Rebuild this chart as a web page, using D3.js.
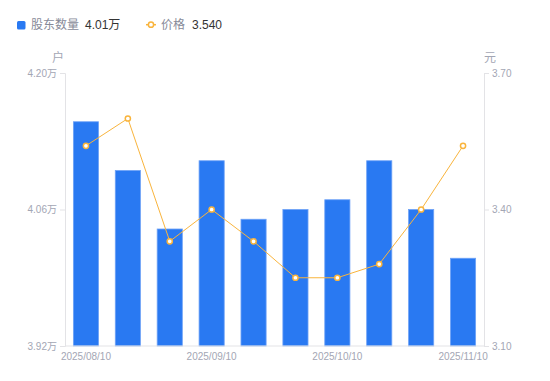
<!DOCTYPE html>
<html><head><meta charset="utf-8">
<script src="https://cdn.jsdelivr.net/npm/d3@7"></script>
<style>
html,body{margin:0;padding:0;background:#fff;}
svg{display:block;font-family:"Liberation Sans","Noto Sans CJK SC",sans-serif;}
</style></head>
<body>
<svg id="c" width="550" height="381"></svg>
<script>
const categories = ["2025/08/10","2025/08/20","2025/08/31","2025/09/10","2025/09/20","2025/09/30","2025/10/10","2025/10/20","2025/10/31","2025/11/10"];
const holders = [4.15, 4.10, 4.04, 4.11, 4.05, 4.06, 4.07, 4.11, 4.06, 4.01];
const prices = [3.54, 3.60, 3.33, 3.40, 3.33, 3.25, 3.25, 3.28, 3.40, 3.54];
const leftTicks = [3.92, 4.06, 4.20];
const rightTicks = [3.10, 3.40, 3.70];
const xTickLabels = ["2025/08/10","2025/09/10","2025/10/10","2025/11/10"];

const W = 550, H = 381;
const m = {left: 65, right: 484, top: 73, bottom: 346};
const barColor = "#2979f2", barStroke = "#6ea2f7", lineColor = "#f9b43c";
const axisColor = "#e3e3e6", tickText = "#a3a6b4";

const svg = d3.select("#c");
const x = d3.scaleBand().domain(categories).range([m.left, m.right]).paddingInner(0.4).paddingOuter(0.2);
const yL = d3.scaleLinear().domain([3.92, 4.20]).range([m.bottom, m.top]);
const yR = d3.scaleLinear().domain([3.10, 3.70]).range([m.bottom, m.top]);

// bars
svg.append("g").selectAll("rect").data(holders).join("rect")
  .attr("x", (d,i) => x(categories[i]))
  .attr("y", d => yL(d))
  .attr("width", x.bandwidth())
  .attr("height", d => m.bottom - yL(d))
  .attr("fill", barColor)
  .attr("stroke", barStroke)
  .attr("stroke-width", 0.8);

// axes
const gL = svg.append("g").attr("transform", `translate(${m.left},0)`)
  .call(d3.axisLeft(yL).tickValues(leftTicks).tickSize(5).tickPadding(3).tickFormat(d => d3.format(".2f")(d) + "万"));
const gR = svg.append("g").attr("transform", `translate(${m.right},0)`)
  .call(d3.axisRight(yR).tickValues(rightTicks).tickSize(5).tickPadding(3).tickFormat(d3.format(".2f")));
const gB = svg.append("g").attr("transform", `translate(0,${m.bottom})`)
  .call(d3.axisBottom(x).tickValues(xTickLabels).tickSize(0).tickPadding(7));
[gL, gR, gB].forEach(g => {
  g.selectAll("path.domain").attr("stroke", axisColor);
  g.selectAll(".tick line").attr("stroke", axisColor);
  g.selectAll("text").attr("fill", tickText).attr("font-size", 10)
    .attr("font-family", '"Liberation Sans","Noto Sans CJK SC",sans-serif');
});
gB.select("path.domain").attr("d", `M${m.left},0H${m.right}`);

// line
const line = d3.line().x((d,i) => x(categories[i]) + x.bandwidth()/2).y(d => yR(d));
svg.append("path").datum(prices).attr("d", line)
  .attr("fill", "none").attr("stroke", lineColor).attr("stroke-width", 1);
svg.append("g").selectAll("circle").data(prices).join("circle")
  .attr("cx", (d,i) => x(categories[i]) + x.bandwidth()/2)
  .attr("cy", d => yR(d))
  .attr("r", 2.6)
  .attr("fill", "#fff")
  .attr("stroke", lineColor)
  .attr("stroke-width", 1.5);

// unit labels
svg.append("text").attr("x", 58).attr("y", 62).attr("text-anchor", "middle")
  .attr("font-size", 12).attr("fill", tickText).text("户");
svg.append("text").attr("x", 490).attr("y", 62).attr("text-anchor", "middle")
  .attr("font-size", 12).attr("fill", tickText).text("元");

// legend
const lg = svg.append("g").attr("font-size", 12);
lg.append("rect").attr("x", 17).attr("y", 21).attr("width", 8.5).attr("height", 8.5).attr("rx", 1.5).attr("fill", barColor);
lg.append("text").attr("x", 31).attr("y", 29).attr("fill", "#878a98").text("股东数量");
lg.append("text").attr("x", 85).attr("y", 29).attr("fill", "#333").text(d3.format(".2f")(holders[holders.length-1]) + "万");
lg.append("line").attr("x1", 146).attr("x2", 156).attr("y1", 24.7).attr("y2", 24.7).attr("stroke", lineColor).attr("stroke-width", 1.5);
lg.append("circle").attr("cx", 151).attr("cy", 24.7).attr("r", 2.6).attr("fill", "#fff").attr("stroke", lineColor).attr("stroke-width", 1.5);
lg.append("text").attr("x", 161).attr("y", 29).attr("fill", "#878a98").text("价格");
lg.append("text").attr("x", 192).attr("y", 29).attr("fill", "#333").text(d3.format(".3f")(prices[prices.length-1]));
</script>
</body></html>
